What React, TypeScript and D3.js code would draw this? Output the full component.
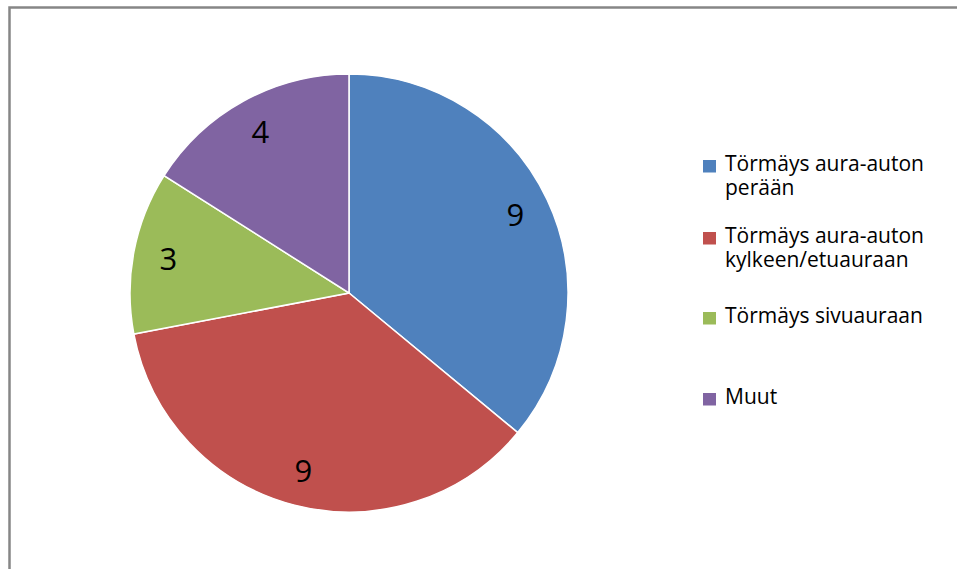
import React from "react";
import * as d3 from "d3";

const categories: string[][] = [
  ["Törmäys aura-auton", "perään"],
  ["Törmäys aura-auton", "kylkeen/etuauraan"],
  ["Törmäys sivuauraan"],
  ["Muut"],
];
const values: number[] = [9, 9, 3, 4];
const colors: string[] = ["#4F81BD", "#C0504D", "#9BBB59", "#8064A2"];
const legendY: number[] = [171, 243, 323, 404];

const W = 957;
const H = 569;
const cx = 349;
const cy = 293;
const R = 219;
const FONT = "'Open Sans', Lato, sans-serif";

export default function App() {
  const pie = d3.pie<number>().sort(null).value((d) => d)(values);
  const arc = d3.arc<d3.PieArcDatum<number>>().innerRadius(0).outerRadius(R);
  const labelArc = d3.arc<d3.PieArcDatum<number>>().innerRadius(184).outerRadius(184);
  return (
    <svg
      width={W}
      height={H}
      style={{ position: "fixed", left: 0, top: 0, background: "#fff" }}
    >
      <rect x={9.5} y={7.5} width={W + 20} height={H + 20} fill="#fff" stroke="#868686" strokeWidth={2.5} />
      <g transform={`translate(${cx},${cy})`}>
        {pie.map((p, i) => (
          <path key={i} d={arc(p) || ""} fill={colors[i]} stroke="#fff" strokeWidth={1.5} />
        ))}
        {pie.map((p, i) => {
          const [x, y] = labelArc.centroid(p);
          return (
            <text
              key={i}
              x={x}
              y={y}
              dy="0.36em"
              textAnchor="middle"
              fontFamily={FONT}
              fontSize={31}
              fill="#000"
            >
              {values[i]}
            </text>
          );
        })}
      </g>
      {categories.map((lines, i) => (
        <g key={i}>
          <rect x={703} y={legendY[i] - 11} width={13} height={12.5} fill={colors[i]} />
          <text fontFamily={FONT} fontSize={21} fill="#000">
            {lines.map((l, j) => (
              <tspan key={j} x={725} y={legendY[i] + j * 23.5}>
                {l}
              </tspan>
            ))}
          </text>
        </g>
      ))}
    </svg>
  );
}
